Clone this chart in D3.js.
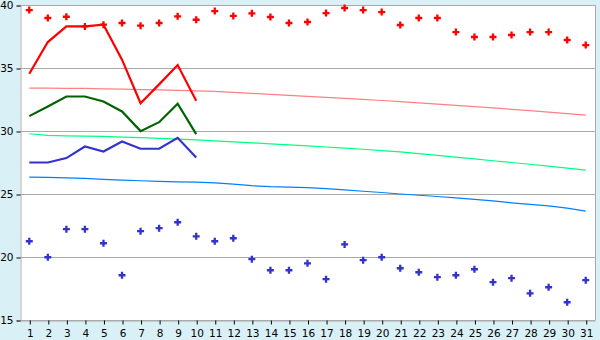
<!DOCTYPE html>
<html>
<head>
<meta charset="utf-8">
<script src="https://cdn.jsdelivr.net/npm/d3@7"></script>
<style>
  body { margin: 0; background: #daf0f7; }
  svg { display: block; font-family: "DejaVu Sans", Verdana, sans-serif; }
</style>
</head>
<body>
<script>
// chart size
var width = 600,
    height = 340;

// days of the month
var days = d3.range(1, 32);

// daily record highs (red dots) and record lows (blue dots)
var recordHigh = [39.6, 38.97, 39.07, 38.3, 38.44, 38.57, 38.36, 38.57, 39.1, 38.83,
    39.52, 39.13, 39.34, 39.05, 38.57, 38.65, 39.36, 39.76, 39.6, 39.44,
    38.41, 38.97, 38.97, 37.85, 37.46, 37.46, 37.62, 37.85, 37.85, 37.22, 36.82];
var recordLow = [21.25, 19.98, 22.21, 22.21, 21.09, 18.55, 22.05, 22.29, 22.76, 21.64,
    21.25, 21.49, 19.83, 18.95, 18.95, 19.5, 18.24, 21.0, 19.75, 19.98,
    19.11, 18.79, 18.4, 18.55, 19.03, 18.0, 18.32, 17.12, 17.6, 16.41, 18.16];

// this month so far: max, mean, min (first 10 days)
var curMax = [34.54, 37.06, 38.3, 38.3, 38.44, 35.66, 32.2, 33.7, 35.23, 32.4];
var curMean = [31.18, 31.95, 32.74, 32.74, 32.34, 31.55, 29.99, 30.7, 32.16, 29.75];
var curMin = [27.5, 27.5, 27.85, 28.77, 28.37, 29.17, 28.59, 28.59, 29.46, 27.9];

// normals: max, mean, min
var normMax = [33.41, 33.4, 33.39, 33.38, 33.35, 33.32, 33.29, 33.26, 33.22, 33.19,
    33.14, 33.07, 32.99, 32.91, 32.83, 32.75, 32.67, 32.59, 32.51, 32.42,
    32.33, 32.23, 32.13, 32.03, 31.93, 31.83, 31.72, 31.61, 31.5, 31.38, 31.26];
var normMean = [29.78, 29.65, 29.62, 29.6, 29.57, 29.52, 29.47, 29.42, 29.36, 29.3,
    29.22, 29.14, 29.06, 28.98, 28.9, 28.82, 28.73, 28.64, 28.55, 28.45,
    28.34, 28.2, 28.06, 27.92, 27.78, 27.64, 27.5, 27.36, 27.22, 27.06, 26.89];
var normMin = [26.34, 26.32, 26.28, 26.24, 26.16, 26.1, 26.05, 26.0, 25.96, 25.94,
    25.88, 25.78, 25.66, 25.58, 25.55, 25.5, 25.42, 25.32, 25.22, 25.12,
    25.0, 24.9, 24.8, 24.7, 24.58, 24.45, 24.3, 24.18, 24.05, 23.88, 23.64];

// y axis ticks
var yTicks = [15, 20, 25, 30, 35, 40];

var svg = d3.select("body")
    .append("svg")
    .attr("width", width)
    .attr("height", height);

// plot area
var plotLeft = 20, plotRight = 595, plotTop = 5, plotBottom = 320;

var x = d3.scalePoint()
    .domain(days)
    .range([plotLeft, plotRight])
    .padding(0.5);

var y = d3.scaleLinear()
    .domain([15, 40])
    .range([plotBottom, plotTop]);

// white plot background
svg.append("rect")
    .attr("x", plotLeft)
    .attr("y", plotTop)
    .attr("width", plotRight - plotLeft)
    .attr("height", plotBottom - plotTop)
    .attr("fill", "#fff");

// grid lines
svg.append("g")
    .selectAll("line")
    .data(yTicks)
    .enter().append("line")
        .attr("x1", plotLeft)
        .attr("x2", plotRight)
        .attr("y1", function(d) { return Math.round(y(d)) + 0.5; })
        .attr("y2", function(d) { return Math.round(y(d)) + 0.5; })
        .attr("stroke", "#aaa");

// right border
svg.append("line")
    .attr("x1", plotRight + 0.5).attr("x2", plotRight + 0.5)
    .attr("y1", plotTop).attr("y2", plotBottom)
    .attr("stroke", "#aaa");

// y axis
var yAxis = svg.append("g")
    .attr("transform", "translate(" + (plotLeft + 0.5) + ",0.5)")
    .call(d3.axisLeft(y).tickValues(yTicks).tickSize(4).tickPadding(3));
yAxis.selectAll("text").attr("font-size", 10.5).attr("fill", "#000");
yAxis.select(".domain").attr("stroke", "#aaa");
yAxis.selectAll(".tick line").attr("stroke", "#000");
yAxis.attr("font-family", null);

// x axis
var xAxis = svg.append("g")
    .attr("transform", "translate(0.5," + (plotBottom + 0.5) + ")")
    .call(d3.axisBottom(x).tickSize(4).tickPadding(5).tickSizeOuter(0));
xAxis.selectAll("text").attr("font-size", 10.5).attr("fill", "#000");
xAxis.select(".domain").attr("stroke", "#aaa");
xAxis.selectAll(".tick line").attr("stroke", "#000");
xAxis.attr("font-family", null);

// line generator
var line = d3.line()
    .x(function(d, i) { return x(days[i]); })
    .y(function(d) { return y(d); });

// normals (thin)
[[normMax, "#ff8080"], [normMean, "#00ff80"], [normMin, "#0080ff"]].forEach(function(s) {
    svg.append("path")
        .datum(s[0])
        .attr("fill", "none")
        .attr("stroke", s[1])
        .attr("stroke-width", 1.2)
        .attr("d", line);
});

// current month (thick)
[[curMax, "#ff0000"], [curMean, "#006400"], [curMin, "#3333cc"]].forEach(function(s) {
    svg.append("path")
        .datum(s[0])
        .attr("fill", "none")
        .attr("stroke", s[1])
        .attr("stroke-width", 2.2)
        .attr("d", line);
});

// record dots
var cross = d3.symbol().type(d3.symbolCross).size(27);
[[recordHigh, "#ff0000"], [recordLow, "#3333cc"]].forEach(function(s) {
    svg.append("g")
        .selectAll("path")
        .data(s[0])
        .enter().append("path")
            .attr("d", cross)
            .attr("transform", function(d, i) {
                return "translate(" + x(days[i]) + "," + y(d) + ")";
            })
            .attr("fill", s[1]);
});
</script>
</body>
</html>
